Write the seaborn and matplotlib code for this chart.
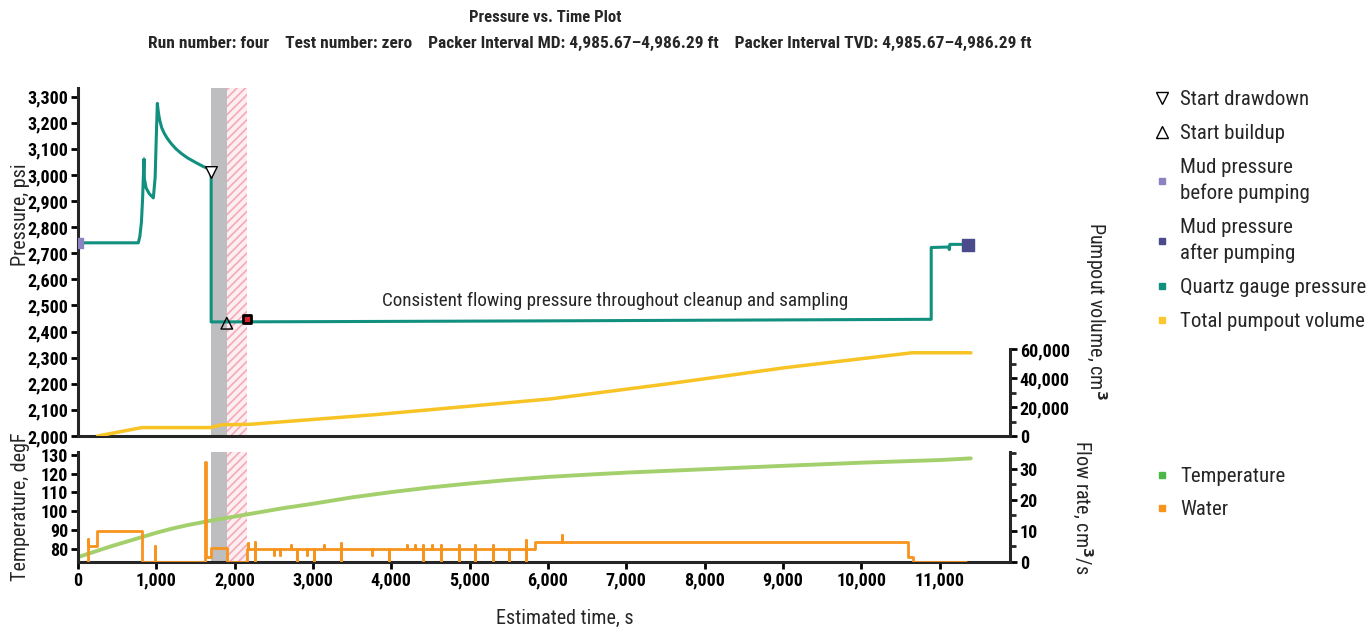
import matplotlib

matplotlib.use('Agg')
import numpy as np
import pandas as pd
import matplotlib.pyplot as plt
import seaborn as sns
from matplotlib.lines import Line2D
from matplotlib.ticker import FuncFormatter, FixedLocator

# quartz gauge pressure (psi) vs time (s)
press_t = [0, 770, 790, 810, 825, 835, 843, 848, 870, 910, 962, 985, 1000, 1013, 1022, 1030, 1047, 1070, 1100,
           1140, 1190, 1250, 1320, 1400, 1500, 1601, 1700, 1700, 3000, 6000, 10894, 10894, 11120, 11125, 11132, 11360]
press_p = [2740, 2740, 2765, 2820, 2910, 3000, 3061, 2985, 2950, 2928, 2912, 2990, 3150, 3274, 3250, 3232, 3205, 3180,
           3160, 3140, 3120, 3100, 3082, 3065, 3048, 3032, 3019, 2437, 2438, 2441, 2447, 2722, 2724, 2714, 2734, 2734]

# total pumpout volume (cm3)
vol_t = [251, 815, 1693, 1828, 2205, 3780, 6035, 7535, 9040, 10650, 11400]
vol_v = [0, 5800, 5800, 7700, 8100, 14650, 25600, 36000, 47200, 57400, 57400]

# temperature (degF)
temp_t = [0, 400, 800, 1000, 1200, 1400, 1700, 2200, 2600, 3000, 3500, 4000, 4500, 5000, 5500, 6000, 6500,
          7000, 7500, 8000, 9000, 10000, 11000, 11400]
temp_v = [75.5, 81, 86, 88.5, 90.7, 92.6, 95, 98.6, 101.5, 104, 107.4, 110.2, 112.7, 114.8, 116.7, 118.3, 119.5,
          120.6, 121.5, 122.4, 124.2, 125.9, 127.3, 128.2]

# water flow rate (cm3/s): step levels, then spikes on the sampling plateau
water_t = [130, 130, 130, 247, 247, 822, 822, 977, 977, 977, 1626, 1626, 1640, 1640, 1695, 1695, 1897, 1897,
           2160, 2160]
water_q = [0, 7.4, 5.0, 5.0, 10.1, 10.1, 0, 0, 5.0, 0, 0, 32, 32, 1.6, 1.6, 4.6, 4.6, 0,
           0, 4.2]
base_q = 4.2
spike_t = [2175, 2266, 2507, 2582, 2725, 2800, 2926, 3012, 3138, 3356, 3760, 3975, 4200, 4300, 4400, 4520,
           4630, 4860, 5070, 5295, 5500, 5715]
spike_hi = [6.0, 6.4, 4.2, 4.2, 5.6, 4.2, 4.2, 4.2, 5.6, 6.0, 4.2, 4.2, 5.6, 5.6, 5.6, 5.6,
            5.6, 5.6, 5.6, 5.6, 4.2, 7.0]
spike_lo = [4.2, 0, 2.1, 2.1, 4.2, 0, 2.1, 0, 4.2, 0, 2.1, 0, 4.2, 4.2, 0, 4.2,
            0, 0, 0, 0, 0, 0]
late_t = [5840, 5840, 6185, 6185, 6185, 10596, 10596, 10660, 10660, 11340]
late_q = [4.2, 6.5, 6.5, 8.8, 6.5, 6.5, 1.6, 1.6, 0, 0]

# event markers
drawdown = (1700, 3012)
buildup = (1900, 2432)
mud_before = (0, 2740)
mud_after = (11360, 2731)
sample_mark = (2160, 2450)

# shaded intervals
grey_span = (1700, 1900)
pink_span = (1900, 2160)

teal = '#12907f'
yellow = '#f7c325'
green = '#a3d06c'
orange = '#f7941d'

# build the water path
wt, wq = list(water_t), list(water_q)
for t, hi, lo in zip(spike_t, spike_hi, spike_lo):
    wt += [t, t, t, t]
    wq += [base_q, hi, lo, base_q]
wt += late_t
wq += late_q

sns.set_style('ticks')
plt.rcParams['font.family'] = ['Roboto Condensed', 'Liberation Sans', 'DejaVu Sans']
plt.rcParams['font.weight'] = 'bold'
plt.rcParams['axes.linewidth'] = 2.2
plt.rcParams['hatch.linewidth'] = 1.2

fig = plt.figure(figsize=(13.69, 6.27), dpi=100)
W, H = 1369, 627
ax_p = fig.add_axes([78 / W, 1 - 436 / H, 932 / W, 348 / H])
ax_t = fig.add_axes([78 / W, 1 - 562 / H, 932 / W, 110 / H])
ax_v = ax_p.twinx()
ax_q = ax_t.twinx()

xmax = 11900
for ax in (ax_p, ax_t):
    ax.axvspan(*grey_span, color='#bebec0', lw=0, zorder=0)
    ax.axvspan(*pink_span, facecolor='#fdeef1', edgecolor='#f3a9b8', hatch='////', lw=0, zorder=0)
    ax.set_xlim(0, xmax)

# pressure panel
sns.lineplot(x=press_t, y=press_p, ax=ax_p, color=teal, lw=2.2, sort=False, estimator=None)
ax_p.scatter(*drawdown, marker='v', s=70, facecolor='white', edgecolor='black', lw=1, zorder=5)
ax_p.scatter(*buildup, marker='^', s=70, facecolor='none', edgecolor='black', lw=1, zorder=5)
ax_p.scatter(*mud_before, marker='s', s=45, color='#8c83c2', zorder=5)
ax_p.scatter(*mud_after, marker='s', s=80, color='#4b4a8c', zorder=5)
ax_p.scatter(*sample_mark, marker='s', s=40, facecolor='#e0202a', edgecolor='black', lw=2, zorder=5)
ax_p.text(6860, 2518, 'Consistent flowing pressure throughout cleanup and sampling',
          ha='center', va='center', fontsize=13.8, fontweight='normal')
ax_p.set_ylim(2000, 3333)
ax_p.set_yticks(np.arange(2000, 3301, 100))
ax_p.yaxis.set_major_formatter(FuncFormatter(lambda v, p: f'{v:,.0f}'))
ax_p.set_xticks([])
ax_p.set_ylabel('Pressure, psi', fontsize=14.5, fontweight='normal')
ax_p.yaxis.set_label_coords(-0.052, 0.635)

# pumpout volume
sns.lineplot(x=vol_t, y=vol_v, ax=ax_v, color=yellow, lw=2.5, sort=False, estimator=None)
ax_v.set_ylim(0, 240000)
ax_v.set_yticks([0, 20000, 40000, 60000])
ax_v.yaxis.set_minor_locator(FixedLocator([10000, 30000, 50000]))
ax_v.yaxis.set_major_formatter(FuncFormatter(lambda v, p: f'{v:,.0f}'))
ax_v.spines['right'].set_bounds(0, 60000)
ax_v.set_ylabel('Pumpout volume, cm$^3$', fontsize=14.5, fontweight='normal', rotation=270)
ax_v.yaxis.set_label_coords(1.106, 0.36)

# temperature / water panel
sns.lineplot(x=temp_t, y=temp_v, ax=ax_t, color=green, lw=2.8, sort=False, estimator=None)
ax_t.set_ylim(72.9, 131.6)
ax_t.set_yticks(np.arange(80, 131, 10))
ax_t.set_xticks(np.arange(0, 11001, 1000))
ax_t.xaxis.set_major_formatter(FuncFormatter(lambda v, p: f'{v:,.0f}'))
ax_t.set_ylabel('Temperature, degF', fontsize=14.5, fontweight='normal')
ax_t.yaxis.set_label_coords(-0.052, 0.5)
ax_t.set_xlabel('Estimated time, s', fontsize=14.5, fontweight='normal')
ax_t.xaxis.set_label_coords(0.522, -0.43)

sns.lineplot(x=wt, y=wq, ax=ax_q, color=orange, lw=2.0, sort=False, estimator=None)
ax_q.set_ylim(0, 35.3)
ax_q.set_yticks([0, 10, 20, 30])
ax_q.yaxis.set_minor_locator(FixedLocator([5, 15, 25, 35]))
ax_q.set_ylabel('Flow rate, cm$^3$/s', fontsize=14.5, fontweight='normal', rotation=270)
ax_q.yaxis.set_label_coords(1.09, 0.5)

for ax in (ax_p, ax_t):
    ax.spines['top'].set_visible(False)
    ax.spines['right'].set_visible(False)
for ax in (ax_v, ax_q):
    for s in ('top', 'left', 'bottom'):
        ax.spines[s].set_visible(False)
    ax.set_xlim(0, xmax)
    ax.tick_params(axis='y', which='minor', length=4, width=2, direction='out')
for ax in (ax_p, ax_t, ax_v, ax_q):
    ax.tick_params(axis='both', which='major', length=5, width=2, direction='out', labelsize=13, pad=2,
                   colors='black')

# legends
top_handles = [
    Line2D([], [], ls='', marker='v', ms=8, mfc='white', mec='black', mew=1, label='Start drawdown'),
    Line2D([], [], ls='', marker='^', ms=8, mfc='white', mec='black', mew=1, label='Start buildup'),
    Line2D([], [], ls='', marker='s', ms=5, color='#8c83c2', label='Mud pressure\nbefore pumping'),
    Line2D([], [], ls='', marker='s', ms=5, color='#4b4a8c', label='Mud pressure\nafter pumping'),
    Line2D([], [], ls='', marker='s', ms=5, color=teal, label='Quartz gauge pressure'),
    Line2D([], [], ls='', marker='s', ms=5, color='#fdc82f', label='Total pumpout volume'),
]
bot_handles = [
    Line2D([], [], ls='', marker='s', ms=5, color='#4db848', label='Temperature'),
    Line2D([], [], ls='', marker='s', ms=5, color=orange, label='Water'),
]
leg_prop = {'size': 15, 'weight': 'normal'}
leg1 = fig.legend(handles=top_handles, loc='upper left', bbox_to_anchor=(1143 / W, 1 - 80 / H), frameon=False,
                  prop=leg_prop, handlelength=0.8, handletextpad=0.5, labelspacing=0.72, borderpad=0)
leg2 = fig.legend(handles=bot_handles, loc='upper left', bbox_to_anchor=(1143 / W, 1 - 457 / H), frameon=False,
                  prop=leg_prop, handlelength=0.8, handletextpad=0.5, labelspacing=0.65, borderpad=0)
for txt in leg1.get_texts():
    txt.set_linespacing(1.42)

# titles
fig.text(545 / W, 1 - 17 / H, 'Pressure vs. Time Plot', ha='center', va='center', fontsize=12)
fig.text(590 / W, 1 - 43 / H,
         'Run number: four    Test number: zero    Packer Interval MD: 4,985.67\u20134,986.29 ft    '
         'Packer Interval TVD: 4,985.67\u20134,986.29 ft', ha='center', va='center', fontsize=12.5)

fig.savefig('out.png', dpi=100)
